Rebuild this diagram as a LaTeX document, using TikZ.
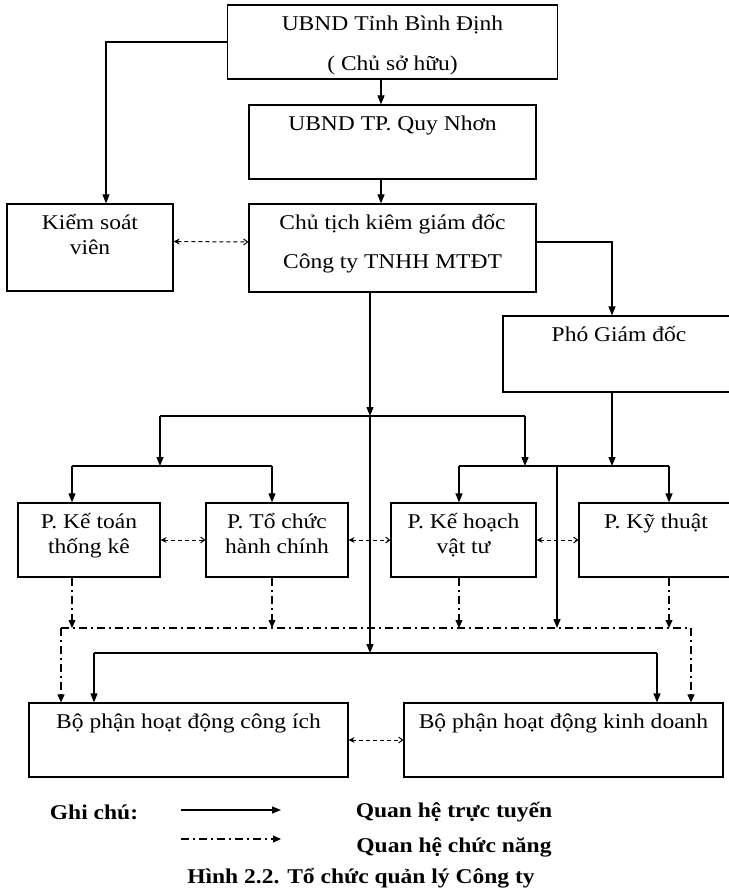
\documentclass[tikz,border=0pt]{standalone}
\usepackage{fontspec}
\setmainfont{Liberation Serif}[FakeStretch=1.12]
\usepackage{tikz}
\usetikzlibrary{arrows.meta}
\newcommand{\boxfont}{\fontsize{21}{25}\selectfont}
\tikzset{
    box/.style={rectangle, draw=black, line width=1.2pt, inner sep=0pt},
    lbl/.style={anchor=north, yshift=-11pt, align=center, inner sep=0pt,
                font=\boxfont},
    legtxt/.style={inner sep=0pt, font=\boxfont\bfseries},
    sline/.style={line width=1.2pt},
    arr/.style={-{Triangle[length=9pt,width=7pt]}, line width=1.2pt},
    fline/.style={line width=1.1pt,
                  dash pattern=on 8pt off 4pt on 2pt off 4pt},
    farr/.style={fline, -{Triangle[length=8pt,width=7pt]}},
    darr/.style={line width=1pt, dash pattern=on 4pt off 3pt,
                 {Stealth[length=6pt,width=6pt]}-{Straight Barb[length=4pt,width=6pt]}}
}
\begin{document}
\begin{tikzpicture}[x=1pt, y=-1pt]
\fill[white] (0,0) rectangle (728,890);
\useasboundingbox (0,0) rectangle (728,890);

% ── Top part ──────────────────────────────────────────────────────────
\node[box, minimum width=330pt, minimum height=74pt,
      label={[lbl]north:{UBND Tỉnh Bình Định\\[15pt]( Chủ sở hữu)}}]
      at (392.5,42) (tinh) {};
\node[box, minimum width=287pt, minimum height=74pt,
      label={[lbl]north:{UBND TP. Quy Nhơn}}]
      at (392.5,142) (tp) {};
\node[box, minimum width=166pt, minimum height=87pt,
      label={[lbl]north:{Kiểm soát\\viên}}]
      at (90,247.5) (ksv) {};
\node[box, minimum width=287pt, minimum height=88pt,
      label={[lbl]north:{Chủ tịch kiêm giám đốc\\[14pt]Công ty TNHH MTĐT}}]
      at (392.5,248) (ct) {};
\node[box, minimum width=232pt, minimum height=76pt,
      label={[lbl]north:{Phó Giám đốc}}]
      at (619,354) (pgd) {};

% ── Department row ────────────────────────────────────────────────────
\node[box, minimum width=142pt, minimum height=74pt,
      label={[lbl]north:{P. Kế toán\\thống kê}}]
      at (89,540) (kt) {};
\node[box, minimum width=142pt, minimum height=74pt,
      label={[lbl]north:{P. Tổ chức\\hành chính}}]
      at (277,540) (tc) {};
\node[box, minimum width=145pt, minimum height=74pt,
      label={[lbl]north:{P. Kế hoạch\\vật tư}}]
      at (463.5,540) (kh) {};
\node[box, minimum width=154pt, minimum height=74pt,
      label={[lbl]north:{P. Kỹ thuật}}]
      at (656,540) (kyt) {};

% ── Bottom row ────────────────────────────────────────────────────────
\node[box, minimum width=319pt, minimum height=74pt,
      label={[lbl]north:{Bộ phận hoạt động công ích}}]
      at (188.5,740) (ci) {};
\node[box, minimum width=319pt, minimum height=74pt,
      label={[lbl]north:{Bộ phận hoạt động kinh doanh}}]
      at (563.5,740) (kd) {};

% ── Junction points ───────────────────────────────────────────────────
\coordinate (split) at (370,416);
\coordinate (topL)  at (160,416);
\coordinate (topR)  at (525,416);
\coordinate (busL1) at (72,466);
\coordinate (busL2) at (272,466);
\coordinate (busR1) at (459,466);
\coordinate (busR2) at (669,466);
\coordinate (tap)   at (557,466);
\coordinate (fL)    at (61,628);
\coordinate (fR)    at (691,628);
\coordinate (sBL)   at (94,653);
\coordinate (sBR)   at (657,653);

% ── Line relations (top) ──────────────────────────────────────────────
\draw[arr] (tinh.west) -| ([xshift=16pt]ksv.north);
\draw[arr] ([xshift=-11.5pt]tinh.south) -- ([xshift=-11.5pt]tp.north);
\draw[arr] ([xshift=-11.5pt]tp.south) -- ([xshift=-11.5pt]ct.north);
\draw[arr] ([yshift=6pt]ct.east) -| ([xshift=-7pt]pgd.north);
\draw[darr] ([yshift=6pt]ksv.east) -- ([yshift=6pt]ct.west);

% ── Line relations (to departments) ───────────────────────────────────
\draw[arr] ([xshift=-22.5pt]ct.south) -- (split);
\draw[sline] (topL) -- (topR);
\draw[arr] (topL) -- (topL |- busL1);
\draw[arr] (topR) -- (topR |- busR1);
\draw[sline] (busL1) -- (busL2);
\draw[arr] (busL1) -- (busL1 |- kt.north);
\draw[arr] (busL2) -- (busL2 |- tc.north);
\draw[arr] ([xshift=-7pt]pgd.south) -- ([xshift=-7pt]pgd.south |- busR1);
\draw[sline] (busR1) -- (busR2);
\draw[arr] (busR1) -- (busR1 |- kh.north);
\draw[arr] (busR2) -- (busR2 |- kyt.north);

% ── Functional relations between departments ─────────────────────────
\draw[darr] (kt) -- (tc);
\draw[darr] (tc) -- (kh);
\draw[darr] (kh) -- (kyt);
\foreach \b/\c in {kt/busL1, tc/busL2, kh/busR1, kyt/busR2}
    \draw[farr] (\c |- \b.south) -- (\c |- fL);
\draw[arr] (tap) -- (tap |- fL);
\draw[fline] (fL) -- (fR);
\draw[farr] (fL) -- (fL |- ci.north);
\draw[farr] (fR) -- (fR |- kd.north);

% ── Line relations (to bottom units) ──────────────────────────────────
\draw[arr] (split) -- (split |- sBL);
\draw[sline] (sBL) -- (sBR);
\draw[arr] (sBL) -- (sBL |- ci.north);
\draw[arr] (sBR) -- (sBR |- kd.north);
\draw[darr] (ci) -- (kd);

% ── Legend ────────────────────────────────────────────────────────────
\node[legtxt] at (94,812) (note) {Ghi chú:};
\coordinate (l1a) at (181,810);
\coordinate (l1b) at (281,810);
\coordinate (l2a) at (181,839);
\coordinate (l2b) at (281,839);
\draw[arr] (l1a) -- (l1b);
\draw[farr] (l2a) -- (l2b);
\node[legtxt] at (454,812) (online) {Quan hệ trực tuyến};
\node[legtxt] at (454,847) (funct)  {Quan hệ chức năng};
\node[legtxt] at (361,878) (cap)    {Hình 2.2. Tổ chức quản lý Công ty};
\end{tikzpicture}
\end{document}
